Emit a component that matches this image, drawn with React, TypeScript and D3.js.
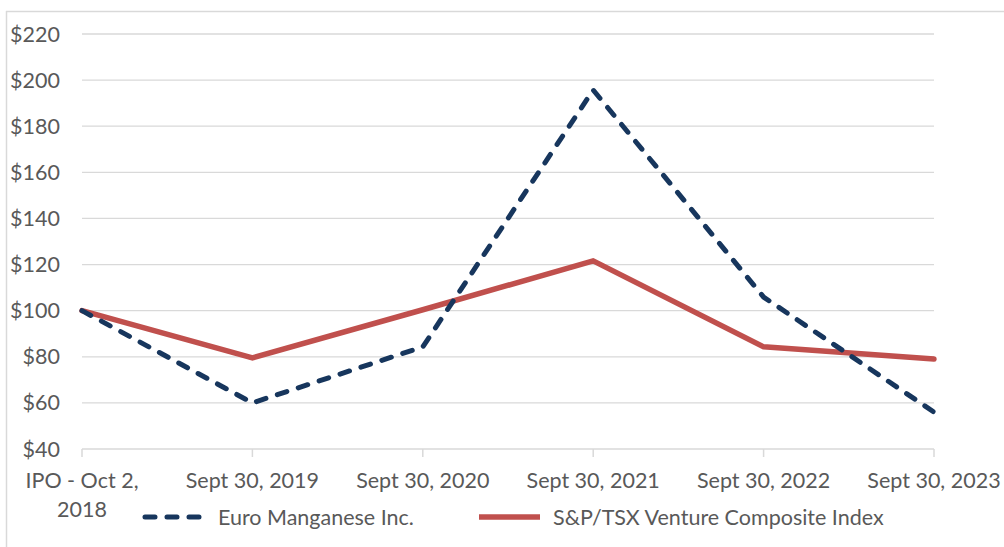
import React from "react";
import * as d3 from "d3";

const categories = ["IPO - Oct 2,\n2018", "Sept 30, 2019", "Sept 30, 2020", "Sept 30, 2021", "Sept 30, 2022", "Sept 30, 2023"];
const euroManganese = [100, 60, 84.3, 195.7, 105.9, 56];
const spTsxVenture = [100, 79.5, 100.4, 121.6, 84.3, 79];
const yTicks = [40, 60, 80, 100, 120, 140, 160, 180, 200, 220];
const seriesNames = ["Euro Manganese Inc.", "S&P/TSX Venture Composite Index"];

const W = 1004, H = 547;
const FONT = "Lato, 'Open Sans', sans-serif";
const FS = 21.5;
const TEXT = "#595959";
const GRID = "#d9d9d9";
const NAVY = "#17365d";
const RED = "#c0504d";

export default function App() {
  const x = d3.scalePoint<number>().domain(d3.range(categories.length)).range([82, 934]);
  const y = d3.scaleLinear().domain([40, 220]).range([449, 34]);
  const line = d3.line<number>().x((_, i) => x(i)!).y((d) => y(d));

  return (
    <svg width={W} height={H} style={{ position: "absolute", left: 0, top: 0 }} fontFamily={FONT}>
      <rect x={0} y={0} width={W} height={H} fill="#fff" />
      {/* chart frame */}
      <line x1={6.5} x2={6.5} y1={11} y2={H} stroke={GRID} strokeWidth={1.5} />
      <line x1={6} x2={W} y1={11.5} y2={11.5} stroke={GRID} strokeWidth={1.5} />
      {/* gridlines */}
      {yTicks.map((t) => (
        <g key={t}>
          <line x1={82} x2={934} y1={y(t)} y2={y(t)} stroke={GRID} strokeWidth={t === 40 ? 1.5 : 1.3} />
          <text x={60} y={y(t)} dy="0.35em" textAnchor="end" fontSize={FS} fill={TEXT}>
            {"$" + t}
          </text>
        </g>
      ))}
      {/* x tick marks */}
      {categories.map((_, i) => (
        <line key={i} x1={x(i)} x2={x(i)} y1={449} y2={457} stroke={GRID} strokeWidth={1.5} />
      ))}
      {/* x labels */}
      {categories.map((c, i) => (
        <text key={c} x={x(i)} y={488} textAnchor="middle" fontSize={FS} fill={TEXT}>
          {c.split("\n").map((s, j) => (
            <tspan key={j} x={x(i)} dy={j === 0 ? 0 : 29}>
              {s}
            </tspan>
          ))}
        </text>
      ))}
      {/* series */}
      <path d={line(spTsxVenture)!} fill="none" stroke={RED} strokeWidth={5.5} strokeLinejoin="round" strokeLinecap="round" />
      <path d={line(euroManganese)!} fill="none" stroke={NAVY} strokeWidth={5} strokeDasharray="10,12" strokeLinejoin="round" strokeLinecap="round" />
      {/* legend */}
      <line x1={145} x2={203} y1={517} y2={517} stroke={NAVY} strokeWidth={5} strokeDasharray="10,12" strokeLinecap="round" />
      <text x={218} y={517} dy="0.35em" fontSize={FS} fill={TEXT}>{seriesNames[0]}</text>
      <line x1={479} x2={540} y1={517} y2={517} stroke={RED} strokeWidth={5.5} />
      <text x={553} y={517} dy="0.35em" fontSize={FS} fill={TEXT}>{seriesNames[1]}</text>
    </svg>
  );
}
